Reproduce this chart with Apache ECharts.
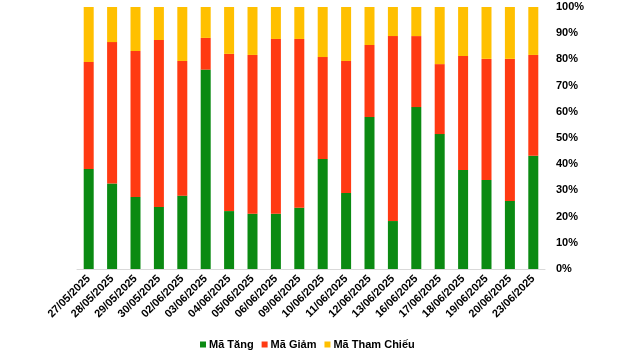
<!DOCTYPE html>
<html><head><meta charset="utf-8">
<script src="https://cdn.jsdelivr.net/npm/echarts@6/dist/echarts.min.js"></script>
<style>html,body{margin:0;padding:0;background:#fff}#c{width:640px;height:356px}</style>
</head><body><div id="c"></div>
<script>
const categories = ["27/05/2025","28/05/2025","29/05/2025","30/05/2025","02/06/2025","03/06/2025","04/06/2025","05/06/2025","06/06/2025","09/06/2025","10/06/2025","11/06/2025","12/06/2025","13/06/2025","16/06/2025","17/06/2025","18/06/2025","19/06/2025","20/06/2025","23/06/2025"];
const maTang = [38.2,32.6,27.5,23.7,28.0,76.1,22.1,21.1,21.1,23.4,42.0,29.0,58.0,18.3,61.8,51.5,37.8,34.0,26.0,43.2];
const maGiam = [40.8,54.0,55.7,63.7,51.4,12.1,60.0,60.6,66.7,64.4,38.9,50.4,27.5,70.6,27.1,26.7,43.5,46.2,54.2,38.5];
const maThamChieu = [21.0,13.4,16.8,12.6,20.6,11.8,17.9,18.3,12.2,12.2,19.1,20.6,14.5,11.1,11.1,21.8,18.7,19.8,19.8,18.3];
const seriesNames = ["Mã Tăng","Mã Giảm","Mã Tham Chiếu"];
const colors = ["#0b8a12","#ff3a12","#ffc000"];

const chart = echarts.init(document.getElementById('c'), null, {renderer:'canvas'});
const font = 'Liberation Sans, Arial, sans-serif';
chart.setOption({
  animation:false,
  color: colors,
  grid:{left:77,right:95,top:7,bottom:87,containLabel:false},
  legend:{
    bottom:1,left:195,itemWidth:6,itemHeight:6,itemGap:8,icon:'rect',
    textStyle:{fontFamily:font,fontWeight:'bold',fontSize:11,color:'#000',padding:[0,0,0,-2]},
    data:seriesNames
  },
  xAxis:{
    type:'category',data:categories,
    axisLine:{lineStyle:{color:'#d9d9d9',width:1}},
    axisTick:{show:false},
    axisLabel:{rotate:45,interval:0,fontFamily:font,fontWeight:'bold',fontSize:11,color:'#000',margin:8}
  },
  yAxis:{
    type:'value',position:'right',min:0,max:100,interval:10,
    axisLine:{show:false},axisTick:{show:false},splitLine:{show:false},
    axisLabel:{formatter:'{value}%',fontFamily:font,fontWeight:'bold',fontSize:11,color:'#000',margin:11}
  },
  series:[
    {name:seriesNames[0],type:'bar',stack:'a',data:maTang,barWidth:10},
    {name:seriesNames[1],type:'bar',stack:'a',data:maGiam,barWidth:10},
    {name:seriesNames[2],type:'bar',stack:'a',data:maThamChieu,barWidth:10}
  ]
});
</script></body></html>
